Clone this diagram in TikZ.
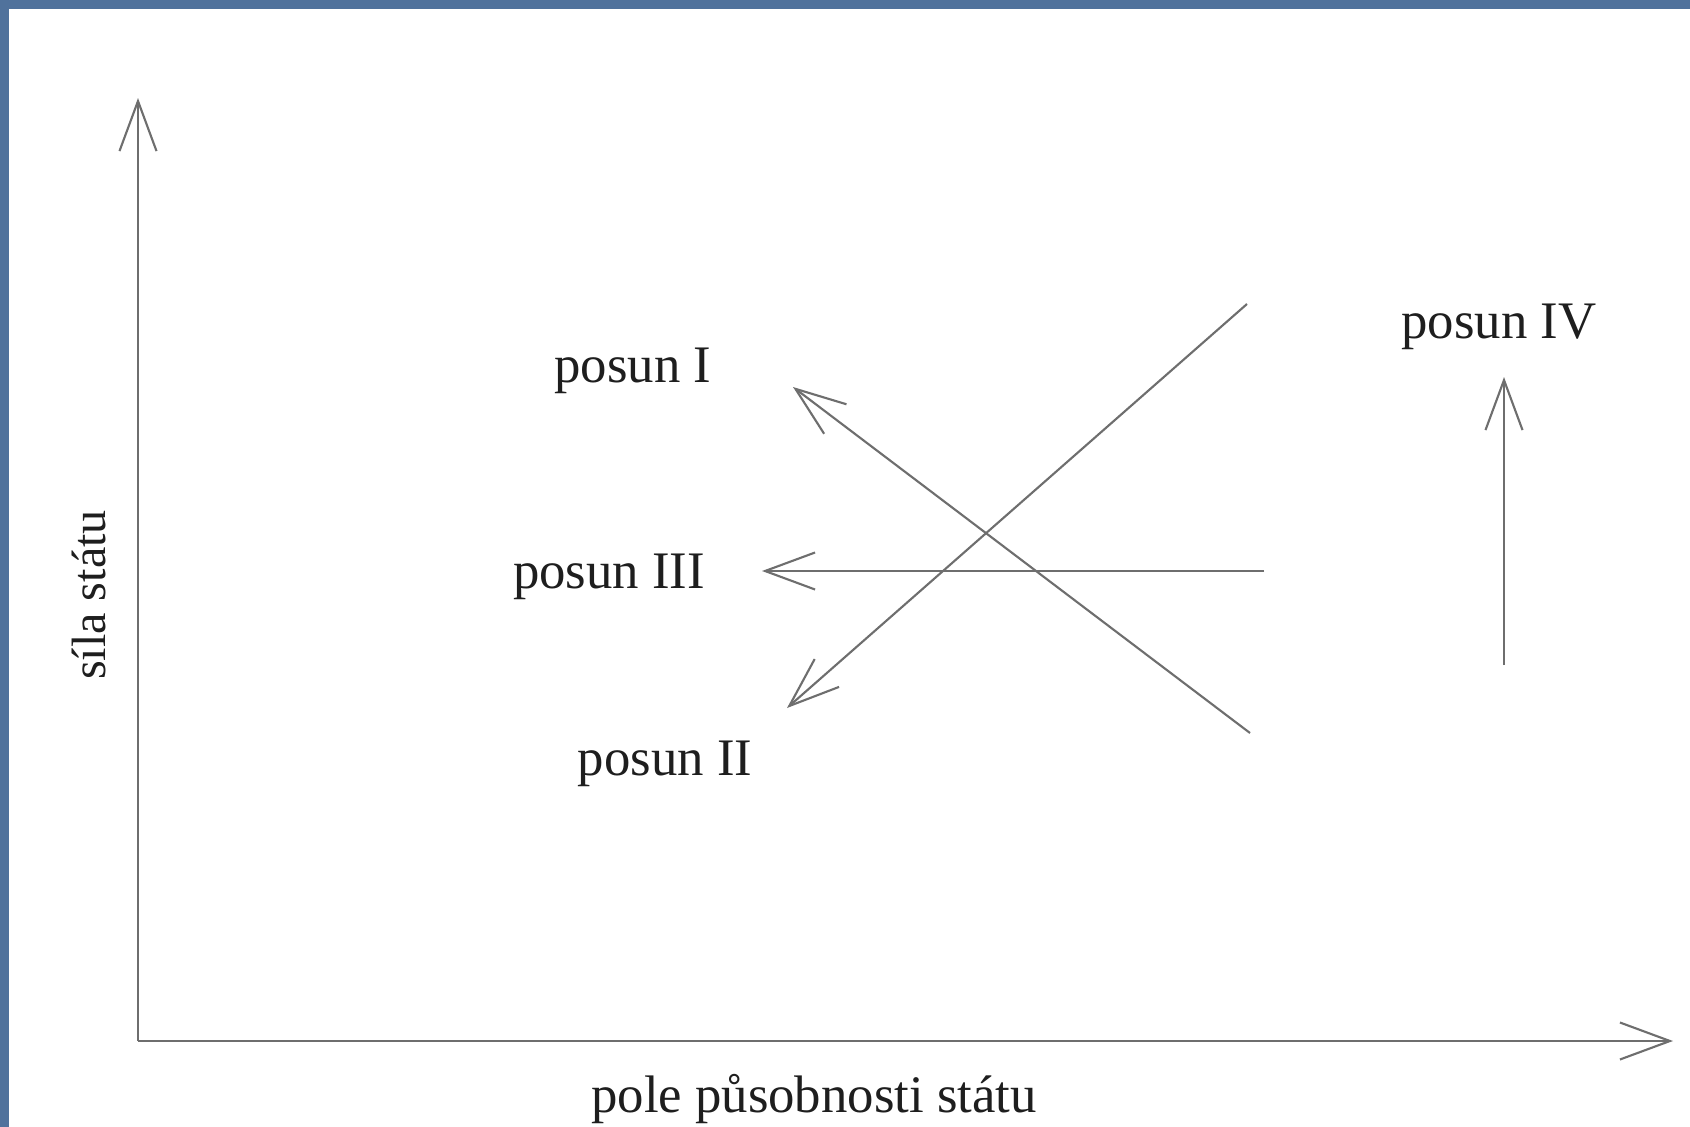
\documentclass[tikz,border=0pt]{standalone}
\usepackage{fontspec}
\setmainfont{Liberation Serif}
\usetikzlibrary{arrows.meta}
\definecolor{frameblue}{RGB}{80,114,156}
\definecolor{linegray}{RGB}{110,110,110}
\definecolor{textgray}{RGB}{30,30,30}

\begin{document}
\begin{tikzpicture}[x=0.01cm,y=-0.01cm]
            \tikzstyle{every node}+=[inner sep=0pt,text=textgray,font=\fontsize{15}{18}\selectfont]
            \tikzstyle{shiftarrow}=[linegray,line width=0.6pt,-{Straight Barb[length=0.5cm,width=0.37cm]}]
            \useasboundingbox (0,0) rectangle (1690,1127);
            \fill [white] (0,0) rectangle (1690,1127);
            \fill [frameblue] (0,0) rectangle (1690,9);
            \fill [frameblue] (0,0) rectangle (9,1127);
            % axes
            \coordinate (O) at (138,1041);
            \coordinate (yTop) at (138,98);
            \coordinate (xEnd) at (1673,1041);
            \draw [shiftarrow] (O) -- (yTop);
            \draw [shiftarrow] (O) -- (xEnd);
            \node [anchor=base] (xLabel) at (814,1112) {pole působnosti státu};
            \node [anchor=base,rotate=90,font=\fontsize{13.7}{16}\selectfont] (yLabel) at (105,595) {síla státu};
            % posun I
            \coordinate (s1) at (1250,733);
            \coordinate (e1) at (793,387);
            \draw [shiftarrow] (s1) -- (e1);
            \node [anchor=base] (posunI) at (633,382) {posun I};
            % posun II
            \coordinate (s2) at (1247,304);
            \coordinate (e2) at (787,708);
            \draw [shiftarrow] (s2) -- (e2);
            \node [anchor=base] (posunII) at (665,775) {posun II};
            % posun III
            \coordinate (s3) at (1264,571);
            \coordinate (e3) at (762,571);
            \draw [shiftarrow] (s3) -- (e3);
            \node [anchor=base] (posunIII) at (609,588) {posun III};
            % posun IV
            \coordinate (s4) at (1504,665);
            \coordinate (e4) at (1504,377);
            \draw [shiftarrow] (s4) -- (e4);
            \node [anchor=base] (posunIV) at (1499,338) {posun IV};
          \end{tikzpicture}
\end{document}
